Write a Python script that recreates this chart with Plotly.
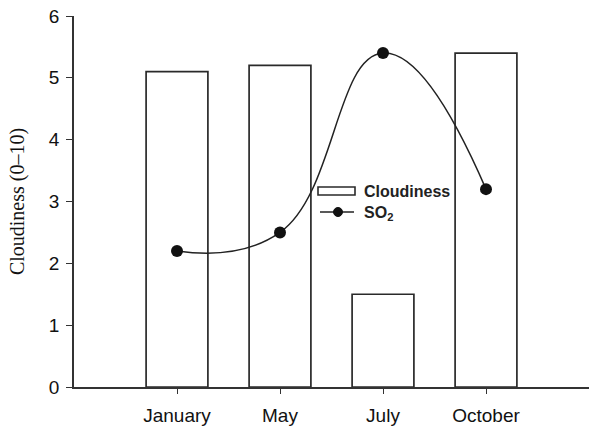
import plotly.graph_objects as go

months = ["January", "May", "July", "October"]
cloudiness = [5.1, 5.2, 1.5, 5.4]
so2 = [2.2, 2.5, 5.4, 3.2]
y_ticks = [0, 1, 2, 3, 4, 5, 6]

xpos = list(range(len(months)))

fig = go.Figure()
fig.add_trace(go.Bar(
    x=xpos, y=cloudiness, width=0.6, name="Cloudiness",
    marker=dict(color="white", line=dict(color="#2a2a2a", width=1.7)),
    showlegend=False,
))
fig.add_trace(go.Scatter(
    x=xpos, y=so2, mode="lines+markers", name="SO<sub>2</sub>",
    line=dict(color="#222222", width=1.5, shape="spline", smoothing=1.3),
    marker=dict(color="#111111", size=12),
    showlegend=False,
))

# manual legend (positions relative to the plot area, 515 x 371 px)
PL, PB, PW, PH = 74, 387, 515, 371
def px(x):
    return (x - PL) / PW
def py(y):
    return (PB - y) / PH

fig.add_shape(type="rect", xref="paper", yref="paper",
              x0=px(318), x1=px(355), y0=py(195), y1=py(187),
              line=dict(color="#2a2a2a", width=1.6), fillcolor="white")
fig.add_shape(type="line", xref="paper", yref="paper",
              x0=px(320), x1=px(354), y0=py(212), y1=py(212),
              line=dict(color="#222222", width=1.5))
fig.add_shape(type="circle", xref="paper", yref="paper",
              x0=px(333.5), x1=px(342.5), y0=py(216.5), y1=py(207.5),
              line=dict(color="#111111", width=1), fillcolor="#111111")
fig.add_annotation(xref="paper", yref="paper", x=px(362), y=py(191),
                   text="<b>Cloudiness</b>", showarrow=False, xanchor="left", yanchor="middle",
                   font=dict(family="Liberation Sans, Arial", size=16, color="#222222"))
fig.add_annotation(xref="paper", yref="paper", x=px(362), y=py(213),
                   text="<b>SO<sub>2</sub></b>", showarrow=False, xanchor="left", yanchor="middle",
                   font=dict(family="Liberation Sans, Arial", size=16, color="#222222"))

fig.update_layout(
    width=589, height=426,
    margin=dict(l=74, r=0, t=16, b=39),
    paper_bgcolor="white", plot_bgcolor="white",
    font=dict(family="Liberation Sans, Arial", size=19, color="#111111"),
    showlegend=False,
)
fig.update_xaxes(
    range=[-1, 4], tickmode="array", tickvals=xpos, ticktext=months,
    showgrid=False, zeroline=False, showline=True, linecolor="#333333", linewidth=1.6,
    ticks="outside", ticklen=5, tickcolor="#333333", tickwidth=1.2,
    ticklabelstandoff=5, ticklabeloverflow="allow",
    automargin=False,
)
fig.update_yaxes(
    range=[0, 6], tickmode="array", tickvals=y_ticks,
    showgrid=False, zeroline=False, showline=True, linecolor="#333333", linewidth=1.6,
    ticks="outside", ticklen=6, tickcolor="#333333", tickwidth=1.2,
    ticklabelstandoff=3, ticklabeloverflow="allow",
    automargin=False,
    title=dict(text="Cloudiness (0\u201310)", font=dict(family="Liberation Serif, Times New Roman", size=20, color="#111111"), standoff=19),
)

fig.write_html(
    "out.html",
    config={"displayModeBar": False},
    post_script="document.body.style.margin='0';document.body.style.overflow='hidden';",
)
